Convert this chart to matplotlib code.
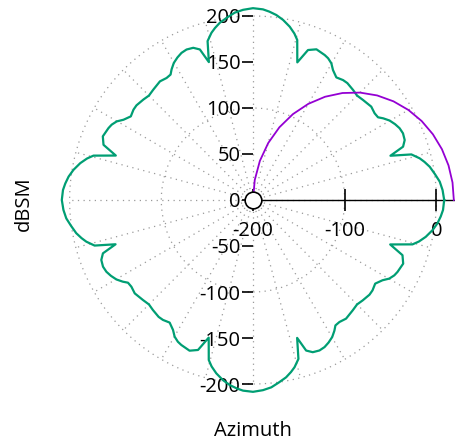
import numpy as np
import matplotlib.pyplot as plt

plt.rcParams['font.family'] = ['Open Sans', 'DejaVu Sans']
plt.rcParams['axes.unicode_minus'] = False

# ===== Datos =====
# patrón RCS (verde): un cuadrante, se repite cada 90 grados
quad_deg = [0, 3, 5.6, 8, 10.6, 12.5, 14, 16, 17.8, 19.5, 21.5, 23.9, 26, 28, 30.1,
            32, 33.4, 35.4, 38.2, 42.2, 45, 47.6, 51, 53, 55.7, 58.3, 60.1, 62, 63.6,
            67.1, 69.8, 72.1, 74.5, 76, 78, 80.5, 82.8, 85, 87]
quad_dbsm = [8.5, 7, 4.6, 0.5, -3.9, -8.5, -12.7, -20.3, -42.6, -26.4, -22.2, -21.1,
             -22.1, -24.5, -27.8, -32.5, -36.7, -37.3, -35.9, -38.1, -39.5, -38.1,
             -36.5, -36.8, -38.7, -34, -28.6, -25.5, -24.1, -22.2, -26.3, -42.8,
             -19.5, -13.5, -7.4, -1.5, 2.7, 5.5, 7.5]

# curva morada
arc_deg = [0, 5, 10, 15, 20, 25, 30, 35, 40, 45, 50, 55, 60, 65, 70, 75, 80, 85, 90]
arc_dbsm = [19, 18.4, 16.5, 13.3, 8.8, 3.0, -4.3, -13.0, -23.2, -34.9, -48.2, -63.0,
            -79.3, -97.0, -115.9, -135.9, -156.8, -178.2, -200]

r_min, r_max = -200, 20
r_tics = [-200, -100, 0]
y_tics = [200, 150, 100, 50, 0, -50, -100, -150, -200]

# ===== polar -> cartesiano (radio = r - r_min) =====
def to_xy(deg, r):
    t = np.radians(np.asarray(deg, float))
    d = np.asarray(r, float) - r_min
    return d * np.cos(t), d * np.sin(t)

full_deg = np.concatenate([np.array(quad_deg) + q for q in (0, 90, 180, 270)] + [[360]])
full_dbsm = np.concatenate([quad_dbsm] * 4 + [[quad_dbsm[0]]])
gx, gy = to_xy(full_deg, full_dbsm)
px, py = to_xy(arc_deg, arc_dbsm)

fig = plt.figure(figsize=(4.55, 4.43), dpi=100)
ax = fig.add_axes([0, 0, 1, 1])
ax.set_xlim(-253 / 0.917, 202 / 0.917)
ax.set_ylim(-243 / 0.92, 200 / 0.92)

# rejilla polar: círculos en los rtics y radios cada 15 grados
grid_kw = dict(color='#9a9a9a', lw=0.9, ls=(0, (1, 3.5)), zorder=1)
tt = np.linspace(0, 2 * np.pi, 400)
for r in r_tics[1:]:
    d = r - r_min
    ax.plot(d * np.cos(tt), d * np.sin(tt), **grid_kw)
for a in range(0, 360, 15):
    ax.plot([0, (r_tics[-1] - r_min) * np.cos(np.radians(a))],
            [0, (r_tics[-1] - r_min) * np.sin(np.radians(a))], **grid_kw)

ax.plot(gx, gy, color='#009e73', lw=1.6, zorder=3)
ax.plot(px, py, color='#9400d3', lw=1.3, zorder=3)
ax.plot([0], [0], 'o', ms=12, mfc='white', mec='black', mew=1.2, zorder=6)

# eje r (horizontal, a la derecha del centro)
for s in ('top', 'right'):
    ax.spines[s].set_visible(False)
ax.spines['bottom'].set_position(('data', 0))
ax.spines['bottom'].set_bounds(0, r_max - r_min + 5)
ax.spines['bottom'].set_linewidth(1.0)
ax.set_xticks([r - r_min for r in r_tics])
ax.set_xticklabels([str(r) for r in r_tics])
ax.tick_params(axis='x', direction='inout', length=16, width=1.2, pad=7, labelsize=14.5)

# eje y sobre x = 0
ax.spines['left'].set_position(('data', 0))
ax.spines['left'].set_visible(False)
ax.set_yticks(y_tics)
ax.set_yticklabels([str(v) for v in y_tics])
ax.tick_params(axis='y', direction='out', length=8, width=1.2, pad=1, labelsize=14.5)

fig.text(24 / 455, 1 - 204 / 443, 'dBSM', rotation=90, ha='center', va='center', fontsize=14.5)
fig.text(253 / 455, 1 - 431 / 443, 'Azimuth', ha='center', va='center', fontsize=14.5)

fig.savefig('out.png', dpi=100)
